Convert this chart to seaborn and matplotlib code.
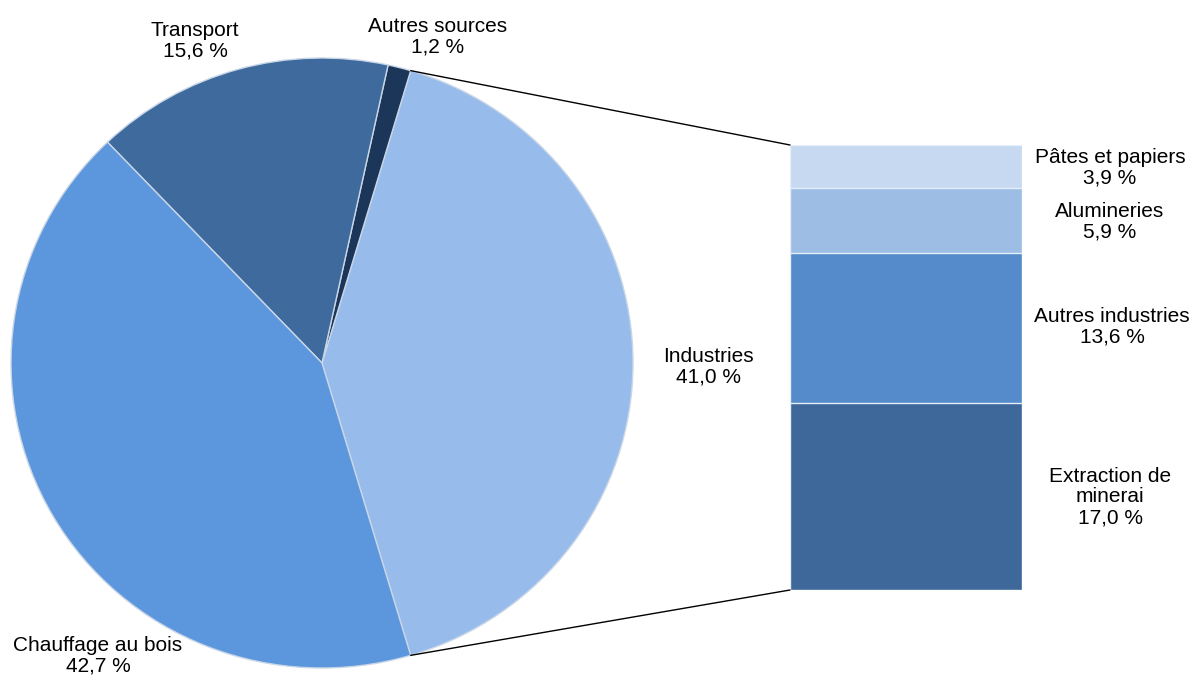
import numpy as np
import matplotlib
matplotlib.use("Agg")
import matplotlib.pyplot as plt
from matplotlib.patches import ConnectionPatch
import seaborn as sns

sns.set_theme(style="white")
plt.rcParams["font.family"] = ["Liberation Sans", "DejaVu Sans"]

# Main pie: emission sources (%)
pie_labels = ["Industries", "Autres sources", "Transport", "Chauffage au bois"]
pie_values = [41.0, 1.2, 15.6, 42.7]
pie_colors = ["#97BCEC", "#1C3659", "#3E6A9E", "#5C97DE"]

# Breakdown of the industrial share (%)
bar_labels = ["Extraction de\nminerai", "Autres industries", "Alumineries", "Pâtes et papiers"]
bar_values = [17.0, 13.6, 5.9, 3.9]
bar_colors = ["#3E6899", "#568BCB", "#9DBDE4", "#C6D9F1"]

W, H = 1199, 681
fig = plt.figure(figsize=(W / 100, H / 100), dpi=100)

def px_box(x0, y0, x1, y1):
    return [x0 / W, 1 - y1 / H, (x1 - x0) / W, (y1 - y0) / H]

# Pie axes
ax_pie = fig.add_axes(px_box(11, 58, 633, 668))
total = sum(pie_values)
half_span = pie_values[0] / total * 360 / 2
wedges, _ = ax_pie.pie(pie_values, colors=pie_colors, startangle=-half_span,
                       counterclock=True, radius=1,
                       wedgeprops=dict(edgecolor="#C9D6E6", linewidth=1.0))
ax_pie.set_aspect("auto")
ax_pie.set_xlim(-1, 1)
ax_pie.set_ylim(-1, 1)
ax_pie.axis("off")

# Stacked bar axes (drawn as overlaid cumulative bars, largest first)
ax_bar = fig.add_axes(px_box(790, 145, 1022, 590))
cum = np.cumsum(bar_values)
for i in range(len(bar_values) - 1, -1, -1):
    sns.barplot(x=[0], y=[cum[i]], color=bar_colors[i], width=1.0,
                edgecolor="#E4EEF9", linewidth=1.0, ax=ax_bar, saturation=1)
ax_bar.set_xlim(-0.5, 0.5)
ax_bar.set_ylim(0, cum[-1])
ax_bar.axis("off")

# Connectors from the Industries wedge edges to the bar corners
a1 = np.deg2rad(half_span)
a2 = np.deg2rad(-half_span)
for (ang, yb) in [(a1, cum[-1]), (a2, 0)]:
    con = ConnectionPatch(xyA=(np.cos(ang), np.sin(ang)), coordsA=ax_pie.transData,
                          xyB=(-0.5, yb), coordsB=ax_bar.transData,
                          color="black", linewidth=1.0)
    fig.add_artist(con)

def fmt(v):
    return f"{v:.1f}".replace(".", ",") + " %"

fs = 15
def label(x, y, text):
    fig.text(x / W, 1 - y / H, text, ha="center", va="center", fontsize=fs,
             linespacing=1.12, color="black")

# Pie labels
label(195, 41, f"Transport\n{fmt(pie_values[2])}")
label(438, 37, f"Autres sources\n{fmt(pie_values[1])}")
label(708, 367, f"Industries\n{fmt(pie_values[0])}")
label(98, 656, f"Chauffage au bois\n{fmt(pie_values[3])}")

# Bar labels
label(1110, 168, f"Pâtes et papiers\n{fmt(bar_values[3])}")
label(1110, 222, f"Alumineries\n{fmt(bar_values[2])}")
label(1112, 327, f"Autres industries\n{fmt(bar_values[1])}")
label(1110, 497, f"{bar_labels[0]}\n{fmt(bar_values[0])}")

fig.savefig("out.png", dpi=100)
